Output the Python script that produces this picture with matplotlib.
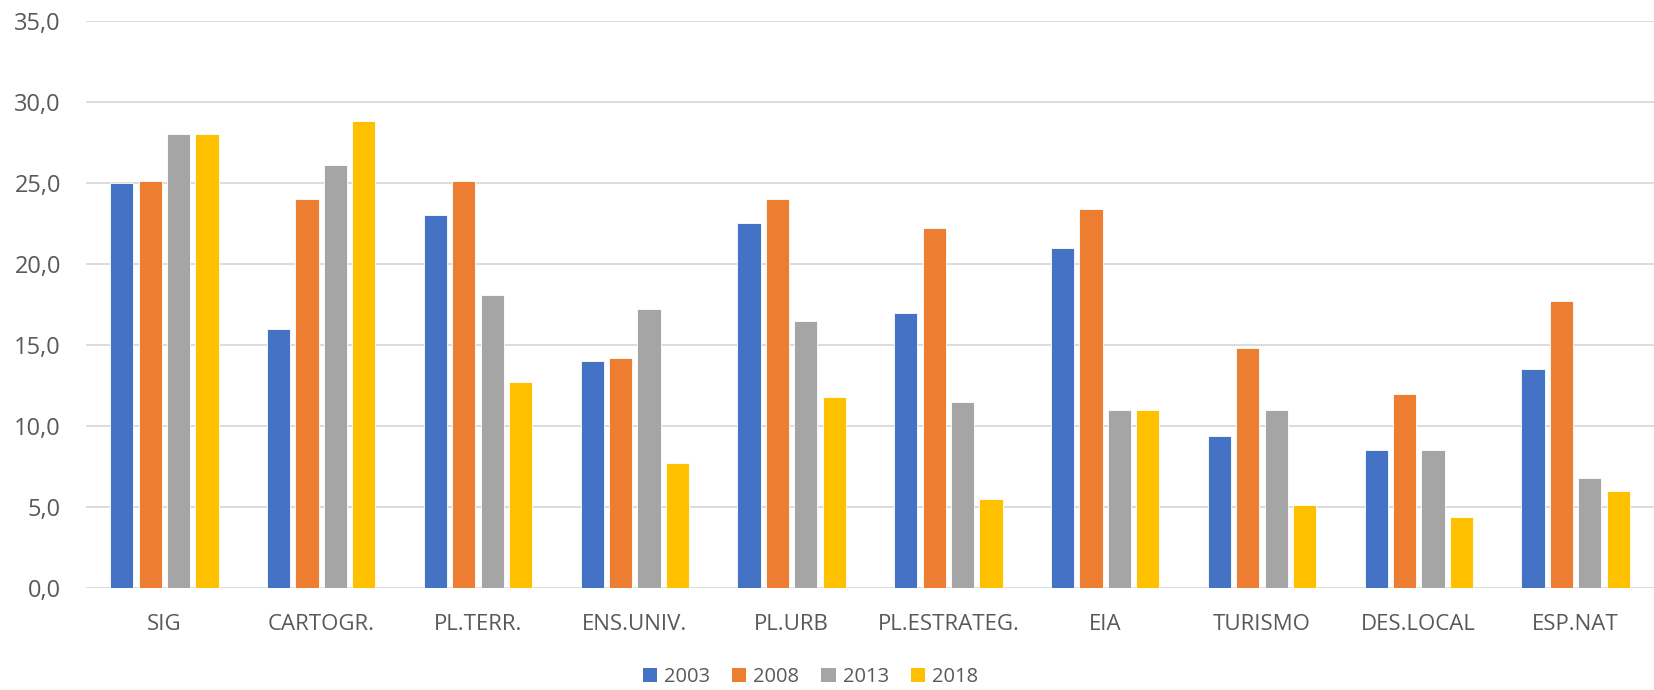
import matplotlib
matplotlib.use("Agg")
import matplotlib.pyplot as plt
import numpy as np
from matplotlib.ticker import FuncFormatter, MultipleLocator
from matplotlib.patches import Patch

plt.rcParams['font.family'] = ['Open Sans', 'DejaVu Sans']

categories = ["SIG", "CARTOGR.", "PL.TERR.", "ENS.UNIV.", "PL.URB", "PL.ESTRATEG.",
              "EIA", "TURISMO", "DES.LOCAL", "ESP.NAT"]
years = ["2003", "2008", "2013", "2018"]
v2003 = [25.0, 16.0, 23.0, 14.0, 22.5, 17.0, 21.0, 9.4, 8.5, 13.5]
v2008 = [25.1, 24.0, 25.1, 14.2, 24.0, 22.2, 23.4, 14.8, 12.0, 17.7]
v2013 = [28.0, 26.1, 18.1, 17.2, 16.5, 11.5, 11.0, 11.0, 8.5, 6.8]
v2018 = [28.0, 28.8, 12.7, 7.7, 11.8, 5.5, 11.0, 5.1, 4.4, 6.0]
series = [v2003, v2008, v2013, v2018]
colors = ["#4472C4", "#ED7D31", "#A5A5A5", "#FFC000"]

fig = plt.figure(figsize=(16.54, 6.9), dpi=100)
ax = fig.add_axes([0.052, 0.1478, 0.948, 0.8218])

x = np.arange(len(categories))
pitch = 0.1815
width = 0.148
for i, (vals, c) in enumerate(zip(series, colors)):
    ax.bar(x + (i - 1.5) * pitch, vals, width=width, color=c,
           edgecolor='white', linewidth=0.6, zorder=3, label=years[i])

ax.set_xlim(-0.5, len(categories) - 0.5)
ax.set_ylim(0, 35)
ax.yaxis.set_major_locator(MultipleLocator(5))
ax.yaxis.set_major_formatter(FuncFormatter(lambda v, p: f"{v:.1f}".replace('.', ',')))
ax.grid(axis='y', color='#d9d9d9', linewidth=1.3, zorder=0)
ax.set_axisbelow(True)
for s in ax.spines.values():
    s.set_visible(False)
ax.tick_params(axis='both', length=0, colors='#595959')
ax.tick_params(axis='y', labelsize=17, pad=18)
ax.tick_params(axis='x', labelsize=16, pad=19)
ax.set_xticks(x)
ax.set_xticklabels(categories)

handles = [Patch(facecolor=c, edgecolor='none') for c in colors]
leg = fig.legend(handles, years, loc='center', bbox_to_anchor=(0.49, 0.019), ncol=4,
                 frameon=False, fontsize=14.5, handlelength=0.7, handleheight=0.7,
                 handletextpad=0.35, columnspacing=1.1, labelcolor='#595959')

fig.savefig("out.png", dpi=100)
